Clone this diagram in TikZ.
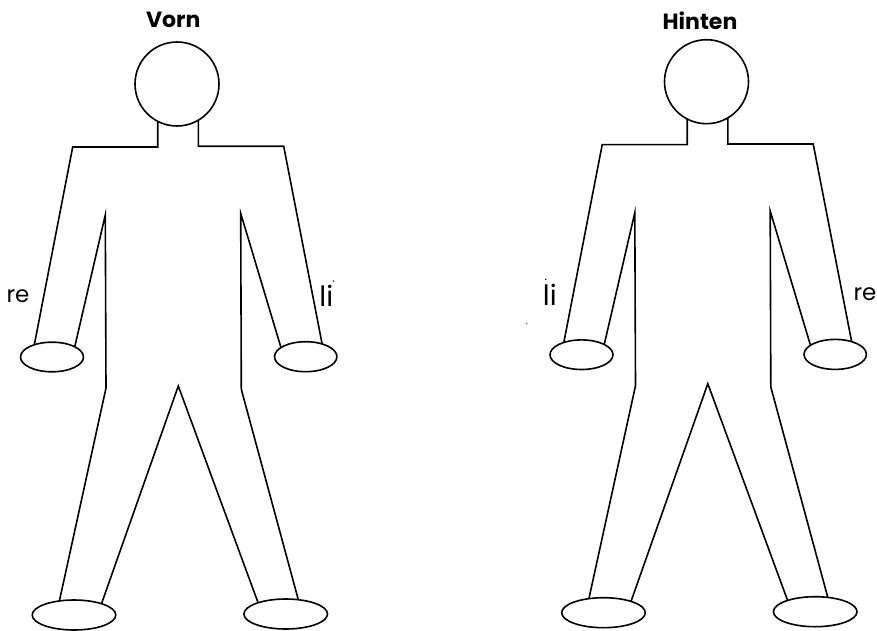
\documentclass[tikz,border=0pt]{standalone}
\usepackage{fontspec}
\setmainfont{Poppins}
\begin{document}
\begin{tikzpicture}[x=1pt,y=-1pt,
  outline/.style={line width=1.6pt,line join=miter},
  limbend/.style={line width=1.6pt,fill=white},
  title/.style={font=\fontsize{22}{24}\selectfont\bfseries,inner sep=0pt},
  side/.style={font=\fontsize{23}{25}\selectfont,inner sep=0pt,anchor=base},
  tall/.style={font=\fontsize{28}{30}\selectfont,inner sep=0pt,anchor=base},
  speck/.style={fill=black,draw=none},
  figure/.pic={
    % body outline, left half then right half
    \draw[outline] (157.7,118) -- (157.7,147) -- (72.7,147) -- (33.3,350);
    \draw[outline] (74,350) -- (105.3,215) -- (106,388) -- (58.3,606);
    \draw[outline] (100.7,606) -- (178.3,386) -- (259.3,606);
    \draw[outline] (300,606) -- (241.3,389.3) -- (240.7,213.3) -- (281.7,350);
    \draw[outline] (323.3,350) -- (283.7,146.3) -- (198.3,146.3) -- (198.3,118);
    % head
    \draw[limbend] (177,84) circle[radius=42pt];
    % hands
    \draw[limbend] (52,357) ellipse[x radius=31.5pt,y radius=14.8pt];
    \draw[limbend] (305.7,356.7) ellipse[x radius=31.2pt,y radius=15pt];
    % feet
    \draw[limbend] (74,615) ellipse[x radius=41.8pt,y radius=15pt];
    \draw[limbend] (285.7,614) ellipse[x radius=41.8pt,y radius=15pt];
  }]
\useasboundingbox (0,0) rectangle (877,631);

\pic at (0,0) {figure};
\pic at (529.5,-2.3) {figure};

\node[title] (vorn) at (173.3,20) {Vorn};
\node[title] (hinten) at (700,20.5) {Hinten};

\node[side] (reL) at (18,302) {re};
\node[tall] (liL) at (326.3,306.7) {li};
\node[tall] (liR) at (549.8,305) {li};
\node[side] (reR) at (865,300) {re};

\fill[speck] (333.3,281) circle[radius=0.8pt];
\fill[speck] (545.7,279.3) circle[radius=0.8pt];
\fill[speck] (526.7,323.3) circle[radius=0.6pt];
\end{tikzpicture}
\end{document}
